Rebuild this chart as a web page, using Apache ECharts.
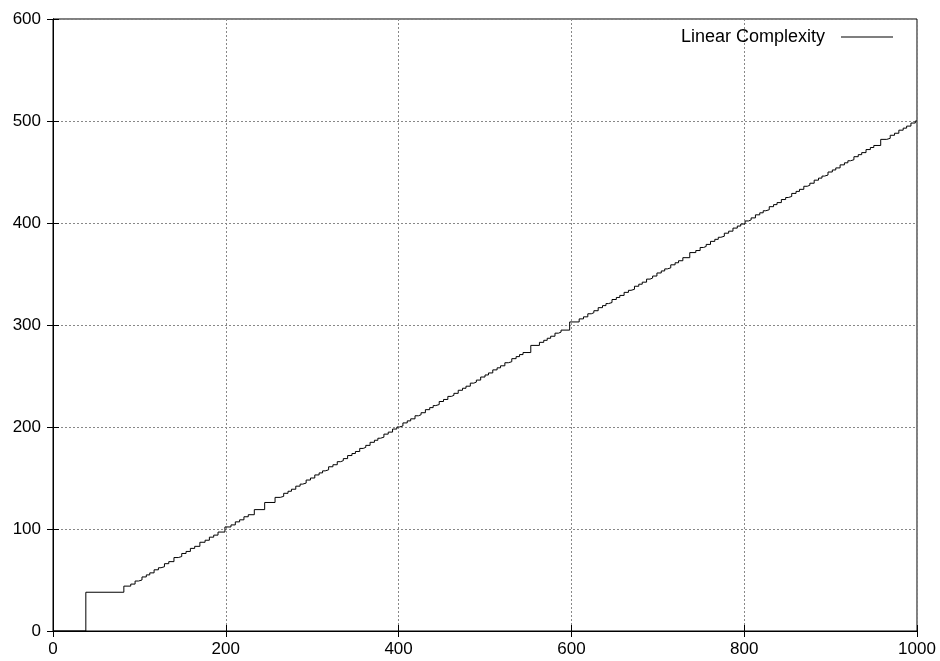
<!DOCTYPE html>
<html>
<head>
<meta charset="utf-8">
<script src="https://cdn.jsdelivr.net/npm/echarts@6/dist/echarts.min.js"></script>
<style>
html,body{margin:0;padding:0;background:#fff;}
#chart{width:940px;height:661px;}
</style>
</head>
<body>
<div id="chart"></div>
<script>
// Bit position (n) at which the linear complexity changes
const stepN = [0, 38, 82, 90, 95, 99, 103, 108, 112, 117, 122, 125, 129, 134, 140, 145, 149, 154, 159, 164, 170, 176, 181, 186, 191, 199,
  206, 211, 216, 221, 226, 233, 245, 257, 263, 267, 272, 276, 281, 286, 289, 293, 298, 303, 308, 312, 315, 319, 324, 329, 333, 336, 341, 346, 350, 355, 359, 362, 367, 372, 376, 379, 383, 388, 393, 398,
  401, 405, 410, 414, 419, 423, 426, 431, 436, 440, 443, 447, 452, 457, 461, 464, 469, 474, 478, 483, 487, 490, 495, 500, 504, 509, 514, 518, 523, 527, 531, 536, 540, 544, 553, 563, 568, 572, 576, 581, 585, 588, 598,
  609, 614, 619, 623, 626, 631, 636, 640, 643, 647, 652, 656, 661, 666, 669, 673, 678, 682, 687, 691, 694, 699, 704, 708, 711, 715, 720, 724, 729, 737, 744, 749, 753, 756, 761, 766, 770, 773, 777, 782, 787, 792, 796,
  801, 805, 808, 813, 818, 822, 825, 829, 834, 838, 843, 848, 851, 855, 860, 864, 869, 873, 876, 881, 886, 890, 893, 897, 902, 906, 911, 916, 920, 923, 927, 932, 936, 941, 946, 950, 958, 965, 969, 974, 979, 984, 988, 993, 998, 1000];
// Linear complexity value from that position on
const linearComplexity = [0, 38, 44, 46, 49, 50, 53, 55, 57, 60, 62, 63, 66, 68, 72, 73, 76, 78, 81, 83, 87, 89, 92, 94, 97, 102,
  104, 107, 109, 112, 114, 119, 126, 131, 132, 135, 137, 139, 142, 144, 145, 148, 150, 153, 155, 157, 158, 161, 163, 166, 167, 169, 172, 174, 176, 179, 180, 182, 185, 187, 189, 190, 193, 195, 198, 200,
  201, 204, 206, 208, 211, 212, 214, 217, 219, 221, 222, 225, 227, 230, 231, 233, 236, 238, 240, 243, 244, 246, 249, 251, 253, 256, 258, 260, 263, 264, 267, 269, 271, 273, 280, 283, 285, 287, 289, 292, 293, 295, 303,
  306, 308, 311, 312, 314, 317, 319, 321, 322, 325, 327, 329, 332, 334, 335, 338, 340, 342, 345, 346, 348, 351, 353, 355, 356, 359, 361, 363, 366, 371, 373, 376, 377, 379, 382, 384, 386, 387, 390, 392, 395, 397, 399,
  402, 403, 405, 408, 410, 412, 413, 416, 418, 420, 423, 425, 426, 429, 431, 433, 436, 437, 439, 442, 444, 446, 447, 450, 452, 454, 457, 459, 461, 462, 465, 467, 469, 472, 474, 476, 482, 483, 486, 488, 491, 493, 495, 498, 500, 500];
const seriesName = 'Linear Complexity';
const xRange = {min: 0, max: 1000, interval: 200};
const yRange = {min: 0, max: 600, interval: 100};

const data = stepN.map((n, i) => [n, linearComplexity[i]]);
const font = 'Liberation Sans, Arial, sans-serif';
const gridLine = {show: true, lineStyle: {color: '#888', width: 1, type: [2, 2]}};
const tick = {show: true, inside: true, length: 6, lineStyle: {color: '#000'}};

const chart = echarts.init(document.getElementById('chart'), null, {renderer: 'canvas'});
chart.setOption({
  animation: false,
  backgroundColor: '#fff',
  grid: {left: 53, right: 23, top: 19, bottom: 30, show: true, borderColor: '#000', borderWidth: 1, containLabel: false},
  legend: {
    data: [seriesName], right: 42, top: 23, align: 'right',
    itemWidth: 52, itemHeight: 14, itemGap: 0,
    textStyle: {fontFamily: font, fontSize: 18, color: '#000', padding: [0, 11, 0, 0]},
    icon: 'path://M0,7 L52,7 L52,8 L0,8 Z',
    itemStyle: {color: '#000'}
  },
  xAxis: [
    {type: 'value', min: xRange.min, max: xRange.max, interval: xRange.interval, position: 'bottom',
     axisLine: {show: true, lineStyle: {color: '#000'}}, axisTick: tick, splitLine: gridLine,
     axisLabel: {color: '#000', fontFamily: font, fontSize: 17, margin: 10, formatter: v => String(v)}},
    {type: 'value', min: xRange.min, max: xRange.max, interval: xRange.interval, position: 'top',
     axisLine: {show: true, lineStyle: {color: '#000'}}, axisTick: tick, splitLine: {show: false}, axisLabel: {show: false}}
  ],
  yAxis: [
    {type: 'value', min: yRange.min, max: yRange.max, interval: yRange.interval, position: 'left',
     axisLine: {show: true, lineStyle: {color: '#000'}}, axisTick: tick, splitLine: gridLine,
     axisLabel: {color: '#000', fontFamily: font, fontSize: 17, margin: 12, formatter: v => String(v)}},
    {type: 'value', min: yRange.min, max: yRange.max, interval: yRange.interval, position: 'right',
     axisLine: {show: true, lineStyle: {color: '#000'}}, axisTick: tick, splitLine: {show: false}, axisLabel: {show: false}}
  ],
  series: [{
    name: seriesName, type: 'line', step: 'end', data: data,
    symbol: 'none', showSymbol: false,
    lineStyle: {color: '#000', width: 1}, itemStyle: {color: '#000'}
  }]
});
</script>
</body>
</html>
